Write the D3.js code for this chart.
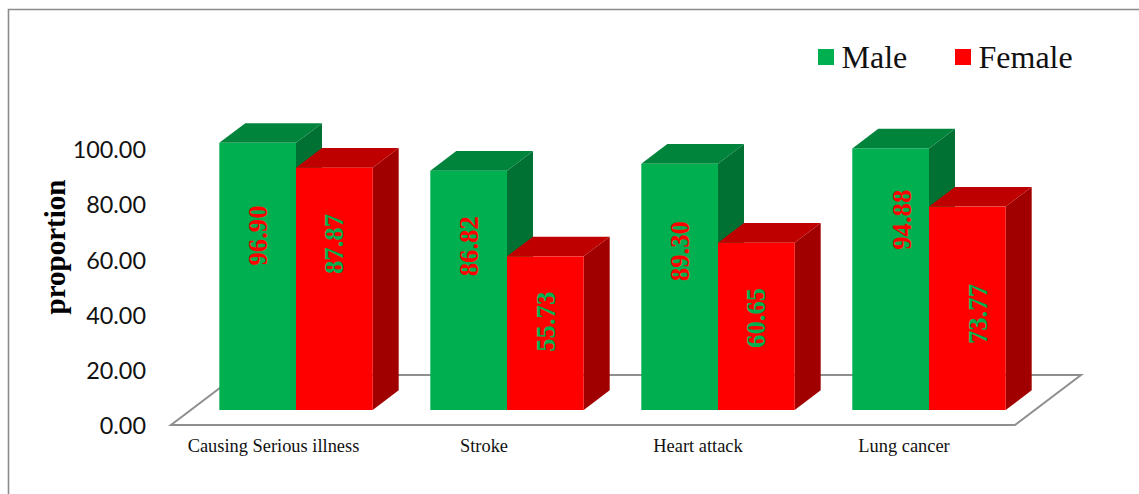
<!DOCTYPE html>
<html><head><meta charset="utf-8">
<script src="https://cdn.jsdelivr.net/npm/d3@7"></script>
<style>
html,body{margin:0;padding:0;background:#fff;overflow:hidden}
svg{display:block}
</style></head><body>
<svg id="c" width="1139" height="494"></svg>
<script>
const categories = ["Causing Serious illness","Stroke","Heart attack","Lung cancer"];
const seriesNames = ["Male","Female"];
const maleValues = [96.90,86.82,89.30,94.88];
const femaleValues = [87.87,55.73,60.65,73.77];
const yTicks = [0,20,40,60,80,100];
// heights (in axis units) at which the data labels sit in the reference
const maleLabelAt = [63.3,59.4,57.6,69.0];
const femaleLabelAt = [60.2,32.0,33.4,34.8];
// fine horizontal nudges, px: category labels, then data labels per category
const catNudge = [0,-0.5,2.5,-2.5];
const dataLabelNudge = [0,0.5,0,11];

const palette = {
  Male:{front:"#00B050",top:"#00843C",side:"#007033",label:"#FF0000"},
  Female:{front:"#FF0000",top:"#BF0000",side:"#A00000",label:"#00B050"}
};
const svg = d3.select("#c");
const serif = "'Liberation Serif','Times New Roman',serif";
const dx = 26, dy = 19.7;

const x = d3.scaleBand().domain(categories).range([190.5,1034.5]).paddingInner(0.273).paddingOuter(0.1365);
const xs = d3.scaleBand().domain(seriesNames).range([0,x.bandwidth()]);
const y = d3.scaleLinear().domain([0,100]).range([410,134.3]);

// frame
svg.append("path").attr("d","M8.5,494V9.5H1139").attr("fill","none").attr("stroke","#8c8c8c").attr("stroke-width",1.6);

// floor
svg.append("path")
  .attr("d","M171,425H1015L1081,375H237Z")
  .attr("fill","none").attr("stroke","#8f8f8f").attr("stroke-width",2).attr("stroke-linejoin","miter");

// bars
const rows = categories.map((c,i)=>({c,i}));
const groups = svg.append("g").selectAll("g").data(rows).join("g");
groups.each(function(r){
  const g = d3.select(this);
  [["Male",maleValues,maleLabelAt],["Female",femaleValues,femaleLabelAt]].forEach(([name,vals,at])=>{
    const p = palette[name];
    const x0 = x(r.c)+xs(name), x1 = x0+xs.bandwidth();
    const yT = y(vals[r.i]), yB = y(0);
    g.append("path").attr("fill",p.side)
      .attr("d",`M${x1},${yT}L${x1+dx},${yT-dy}V${yB-dy}L${x1},${yB}Z`);
    g.append("path").attr("fill",p.top)
      .attr("d",`M${x0},${yT}L${x0+dx},${yT-dy}H${x1+dx}L${x1},${yT}Z`);
    g.append("rect").attr("fill",p.front)
      .attr("x",x0).attr("y",yT).attr("width",x1-x0).attr("height",yB-yT);
  });
});
// data labels
groups.each(function(r){
  const g = d3.select(this);
  [["Male",maleValues,maleLabelAt],["Female",femaleValues,femaleLabelAt]].forEach(([name,vals,at])=>{
    const cx = x(r.c)+xs(name)+xs.bandwidth()/2+dataLabelNudge[r.i];
    g.append("text").text(d3.format(".2f")(vals[r.i]))
      .attr("transform",`translate(${cx},${y(at[r.i])}) rotate(-90)`)
      .attr("text-anchor","middle").attr("dominant-baseline","central")
      .attr("font-family",serif).attr("font-weight","bold").attr("font-size",26.7)
      .attr("fill",palette[name].label);
  });
});

// y axis
const yAxis = d3.axisLeft(y).tickValues(yTicks).tickFormat(d3.format(".2f")).tickSize(0).tickPadding(0);
const ya = svg.append("g").attr("transform","translate(146,16)").call(yAxis);
ya.select(".domain").remove();
ya.selectAll("text").attr("font-family","Lato,'Open Sans',sans-serif").attr("font-size",23.4).attr("fill","#111");

// x axis
const xAxis = d3.axisBottom(x).tickSize(0).tickPadding(0);
const xa = svg.append("g").attr("transform","translate(-22.5,438.5)").call(xAxis);
xa.select(".domain").remove();
xa.selectAll("text").attr("font-family",serif).attr("font-size",18.4).attr("fill","#111")
  .attr("dx",(d,i)=>catNudge[i]);

// axis title
svg.append("text").text("proportion")
  .attr("transform","translate(54.5,247) rotate(-90)")
  .attr("text-anchor","middle").attr("dominant-baseline","central")
  .attr("font-family",serif).attr("font-weight","bold").attr("font-size",29).attr("fill","#000");

// legend
const lx = d3.scaleOrdinal().domain(seriesNames).range([818,955]);
const lg = svg.append("g").selectAll("g").data(seriesNames).join("g")
  .attr("transform",d=>`translate(${lx(d)},49)`);
lg.append("rect").attr("width",16).attr("height",16).attr("fill",d=>palette[d].front);
lg.append("text").text(d=>d).attr("x",23.5).attr("y",19)
  .attr("font-family",serif).attr("font-size",32).attr("fill","#111");
</script>
</body></html>
